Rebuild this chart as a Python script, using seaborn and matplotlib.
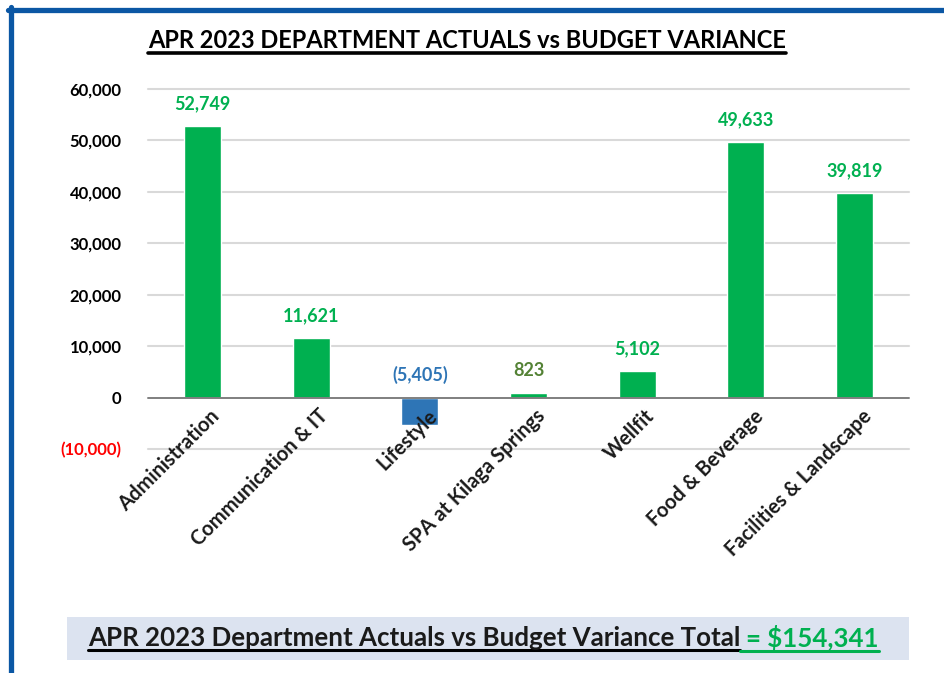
import matplotlib
matplotlib.use("Agg")
import matplotlib.pyplot as plt
import seaborn as sns
import pandas as pd
from matplotlib.patches import Rectangle
from matplotlib.lines import Line2D
from matplotlib.ticker import FuncFormatter, MultipleLocator

# ---- data ----
categories = ["Administration", "Communication & IT", "Lifestyle",
              "SPA at Kilaga Springs", "Wellfit", "Food & Beverage",
              "Facilities & Landscape"]
variance = [52749, 11621, -5405, 823, 5102, 49633, 39819]
total_label = "$154,341"
title = "APR 2023 DEPARTMENT ACTUALS vs BUDGET VARIANCE"
footer = "APR 2023 Department Actuals vs Budget Variance Total"

# ---- style ----
sns.set_theme(style="white")
plt.rcParams['font.family'] = ['Lato', 'DejaVu Sans']

GREEN = "#00b050"
BLUE = "#2e75b6"
OLIVE = "#548235"
bar_colors = [GREEN if v >= 0 else BLUE for v in variance]
label_colors = [GREEN, GREEN, BLUE, OLIVE, GREEN, GREEN, GREEN]

W, H = 944, 673
fig = plt.figure(figsize=(W / 100, H / 100), dpi=100)
fig.patch.set_facecolor("white")

ax = fig.add_axes([148 / W, 1 - 449 / H, (909 - 148) / W, (449 - 89) / H])
df = pd.DataFrame({"cat": categories, "val": variance})
sns.barplot(data=df, x="cat", y="val", hue="cat", palette=bar_colors,
            width=0.34, legend=False, ax=ax, saturation=1, zorder=3)

ax.set_ylim(-10000, 60000)
ax.set_xlim(-0.5, len(categories) - 0.5)
ax.yaxis.set_major_locator(MultipleLocator(10000))
for y in range(-10000, 60001, 10000):
    ax.axhline(y, color="#7f7f7f" if y == 0 else "#d9d9d9",
               lw=1.4 if y == 0 else 1.5, zorder=1 if y else 4, clip_on=False)
for s in ax.spines.values():
    s.set_visible(False)

def yfmt(v, pos):
    if v < 0:
        return f"({abs(int(v)):,})"
    return f"{int(v):,}"
ax.yaxis.set_major_formatter(FuncFormatter(yfmt))
ax.tick_params(axis="y", length=0, pad=19, labelsize=12)
for lab in ax.get_yticklabels():
    lab.set_fontweight("bold")
    lab.set_color("#ff0000" if lab.get_text().startswith("(") else "black")

ax.set_xticks(range(len(categories)))
ax.set_xticklabels([])
ax.tick_params(axis="x", length=0)
ax.set_xlabel("")
ax.set_ylabel("")

# category labels (Excel-like: below zero line, rotated 45)
for i, c in enumerate(categories):
    ax.annotate(c, (i, 0), xytext=(5, -6), textcoords="offset points",
                rotation=45, ha="right", va="top", rotation_mode="anchor",
                fontsize=14.5, fontweight="bold", color="#1a1a1a", zorder=5)

# value labels
for i, v in enumerate(variance):
    txt = f"({abs(v):,})" if v < 0 else f"{v:,}"
    ax.annotate(txt, (i, max(v, 0)), xytext=(0, 10), textcoords="offset points",
                ha="center", va="bottom", fontsize=13, fontweight="bold",
                color=label_colors[i])

# ---- title ----
t_title = fig.text(467 / W, 1 - 40 / H, title, ha="center", va="center",
                   fontsize=17, fontweight="bold", color="black")

# footer box
fig.add_artist(Rectangle((67 / W, 1 - 660 / H), (909 - 67) / W, 43 / H,
                         transform=fig.transFigure, facecolor="#dce3f0",
                         edgecolor="none", zorder=0))
t_f1 = fig.text(88 / W, 1 - 638 / H, footer, ha="left", va="center",
                fontsize=18.6, fontweight="bold", color="#1a1a1a")

# blue frame
fig.add_artist(Line2D([8 / W, 1], [1 - 9.5 / H, 1 - 9.5 / H], color="#0b57a4",
                      lw=3.8, transform=fig.transFigure))
fig.add_artist(Line2D([10.5 / W, 10.5 / W], [0, 1 - 7 / H], color="#0b57a4",
                      lw=3.8, transform=fig.transFigure))

fig.canvas.draw()
r = fig.canvas.get_renderer()
bb1 = t_f1.get_window_extent(r)
t_f2 = fig.text((bb1.x1 + 6) / W, 1 - 638 / H, "= " + total_label, ha="left",
                va="center", fontsize=18.6, fontweight="bold", color=GREEN)
fig.canvas.draw()
bb2 = t_f2.get_window_extent(r)
bbt = t_title.get_window_extent(r)

def underline(bb, color, lw=2.2, dy=2):
    y = (bb.y0 - dy) / H
    fig.add_artist(Line2D([bb.x0 / W, bb.x1 / W], [y, y], color=color, lw=lw,
                          transform=fig.transFigure))

underline(bbt, "black", lw=2.6, dy=1)
underline(bb1, "black", lw=2.2, dy=0)
underline(bb2.from_extents(bb1.x1, bb2.y0, bb2.x1, bb2.y1), GREEN, lw=2.2, dy=0)

fig.savefig("out.png", dpi=100, facecolor="white")
